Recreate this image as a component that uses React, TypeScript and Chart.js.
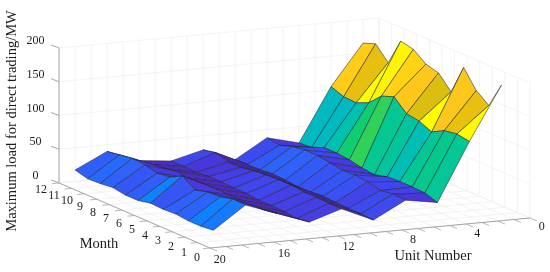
import React, { useEffect, useRef } from "react";
import { Chart, registerables } from "chart.js";

Chart.register(...registerables);

const months = [1, 2, 3, 4, 5, 6, 7, 8, 9, 10, 11, 12];
const units = [1, 3, 5, 7, 9, 11, 13, 15, 17, 19];

const loadU1 = [191, 153, 167, 193, 149, 169, 174, 188, 192, 152, 172, 165];
const loadU3 = [112, 115, 112, 102, 110, 113, 130, 123, 105, 97, 98, 105];
const loadU5 = [26, 32, 33, 33, 32, 27, 29, 33, 35, 35, 27, 26];
const loadU7 = [34, 35, 32, 37, 39, 38, 41, 44, 44, 41, 35, 38];
const loadU9 = [9, 10, 10, 11, 12, 10, 10, 12, 13, 11, 11, 10];
const loadU11 = [30, 30, 31, 31, 33, 33, 32, 30, 27, 27, 33, 29];
const loadU13 = [15, 12, 14, 15, 15, 17, 17, 18, 18, 16, 17, 17];
const loadU15 = [32, 29, 28, 28, 28, 29, 29, 28, 30, 27, 24, 22];
const loadU17 = [49, 50, 45, 44, 39, 52, 42, 40, 44, 46, 43, 40];
const loadU19 = [16, 14, 14, 16, 15, 16, 12, 12, 15, 13, 12, 17];
const loads = [loadU1, loadU3, loadU5, loadU7, loadU9, loadU11, loadU13, loadU15, loadU17, loadU19];

const unitTicks = Array.from({ length: 21 }, (_, i) => i);
const monthTicks = [0, 1, 2, 3, 4, 5, 6, 7, 8, 9, 10, 11, 12];
const loadTicks = [0, 50, 100, 150, 200];
const unitLabels = [0, 4, 8, 12, 16, 20];

// Oblique view of the 3-D box, expressed in the 2-D scale's units
const project = (u: number, m: number, z: number) => ({
  x: 530 - 16 * u - 12.58 * m,
  y: 218 + 1.5 * u - 5.42 * m - 0.675 * z,
});

const colorStops: [number, number[]][] = [
  [9, [72, 38, 165]],
  [18, [76, 44, 195]],
  [28, [72, 56, 222]],
  [36, [58, 78, 243]],
  [45, [44, 100, 250]],
  [50, [16, 128, 255]],
  [96, [0, 184, 196]],
  [106, [0, 194, 170]],
  [122, [12, 205, 115]],
  [131, [52, 210, 86]],
  [150, [228, 190, 12]],
  [170, [255, 200, 28]],
  [188, [255, 245, 0]],
  [194, [255, 255, 0]],
];

function colorOf(z: number) {
  for (let i = 1; i < colorStops.length; i++) {
    const [z1, c1] = colorStops[i];
    if (z <= z1) {
      const [z0, c0] = colorStops[i - 1];
      const t = Math.max(0, (z - z0) / (z1 - z0));
      const c = c0.map((v, k) => Math.round(v + (c1[k] - v) * t));
      return `rgb(${c[0]},${c[1]},${c[2]})`;
    }
  }
  return "rgb(255,255,0)";
}

const line = (pts: { x: number; y: number }[], color: string, width: number) => ({
  data: pts,
  showLine: true,
  borderColor: color,
  borderWidth: width,
  pointRadius: 0,
  fill: false,
  tension: 0,
  clip: false,
});

function buildDatasets() {
  const faces: any[] = [];
  // Painter's order is far to near; Chart.js paints the last dataset first, so near faces come first here
  for (let mi = 0; mi < months.length - 1; mi++) {
    for (let ui = units.length - 2; ui >= 0; ui--) {
      const a = project(units[ui], months[mi], loads[ui][mi]);
      const b = project(units[ui + 1], months[mi], loads[ui + 1][mi]);
      const c = project(units[ui + 1], months[mi + 1], loads[ui + 1][mi + 1]);
      const d = project(units[ui], months[mi + 1], loads[ui][mi + 1]);
      faces.push({
        data: [a, b, c, d, a],
        showLine: true,
        borderColor: "rgba(35,35,60,0.72)",
        backgroundColor: colorOf(loads[ui][mi]),
        borderWidth: 0.75,
        pointRadius: 0,
        fill: "shape",
        tension: 0,
        clip: false,
      });
    }
  }
  const axisGray = "rgb(165,165,165)";
  const gridGray = "rgb(240,240,240)";
  const axes = [
    line([project(20, 12, 0), project(20, 0, 0), project(0, 0, 0)], axisGray, 1),
    line([project(20, 12, 0), project(20, 12, 200)], axisGray, 1),
  ];
  const ticks: any[] = [];
  for (const z of loadTicks) {
    const p = project(20, 12, z);
    ticks.push(line([p, { x: p.x - 8, y: p.y - 3 }], axisGray, 1));
  }
  for (const u of unitTicks) {
    const p = project(u, 0, 0);
    ticks.push(line([p, { x: p.x + 7, y: p.y + 3 }], axisGray, 0.8));
  }
  for (const m of monthTicks) {
    const p = project(20, m, 0);
    ticks.push(line([p, { x: p.x - 7, y: p.y + 0.7 }], axisGray, 0.8));
  }
  const grid: any[] = [];
  for (const u of unitTicks) {
    grid.push(line([project(u, 0, 0), project(u, 12, 0), project(u, 12, 200)], gridGray, 0.8));
  }
  for (const m of monthTicks) {
    grid.push(line([project(20, m, 0), project(0, m, 0), project(0, m, 200)], gridGray, 0.8));
  }
  for (const z of loadTicks) {
    grid.push(line([project(20, 12, z), project(0, 12, z), project(0, 0, z)], gridGray, 0.8));
  }
  return [...faces, ...axes, ...ticks, ...grid];
}

const textPlugin = {
  id: "axisText",
  afterDraw(chart: any) {
    const ctx = chart.ctx;
    ctx.save();
    ctx.fillStyle = "#1c1c1c";
    ctx.textAlign = "center";
    ctx.textBaseline = "middle";
    ctx.font = '12px "Liberation Serif"';
    loadTicks.forEach((z) => ctx.fillText(String(z), 35.5, 176 - 0.675 * z));
    monthTicks.forEach((m) => ctx.fillText(String(m), 197 - 13 * m, 258.3 - 5.7 * m));
    unitLabels.forEach((u) => ctx.fillText(String(u), 541.7 - 16.1 * u, 227 + 1.65 * u));
    ctx.font = '14.5px "Liberation Serif"';
    ctx.fillText("Month", 99, 244);
    ctx.fillText("Unit Number", 433, 256);
    ctx.translate(12, 121);
    ctx.rotate(-Math.PI / 2);
    ctx.fillText("Maximum load for direct trading/MW", 0, 0);
    ctx.restore();
  },
};

export default function App() {
  const ref = useRef<HTMLCanvasElement>(null);
  useEffect(() => {
    document.body.style.margin = "0";
    document.body.style.background = "#fff";
    const chart = new Chart(ref.current!, {
      type: "scatter",
      data: { datasets: buildDatasets() },
      options: {
        animation: false,
        responsive: false,
        devicePixelRatio: 1,
        layout: { padding: 0 },
        scales: {
          x: { type: "linear", min: 0, max: 550, display: false },
          y: { type: "linear", min: 0, max: 272, reverse: true, display: false },
        },
        plugins: { legend: { display: false }, tooltip: { enabled: false }, title: { display: false } },
      },
      plugins: [textPlugin],
    } as any);
    return () => chart.destroy();
  }, []);
  return (
    <div style={{ position: "absolute", left: 0, top: 0, width: 550, height: 272 }}>
      <canvas ref={ref} width={550} height={272} style={{ display: "block" }} />
    </div>
  );
}
